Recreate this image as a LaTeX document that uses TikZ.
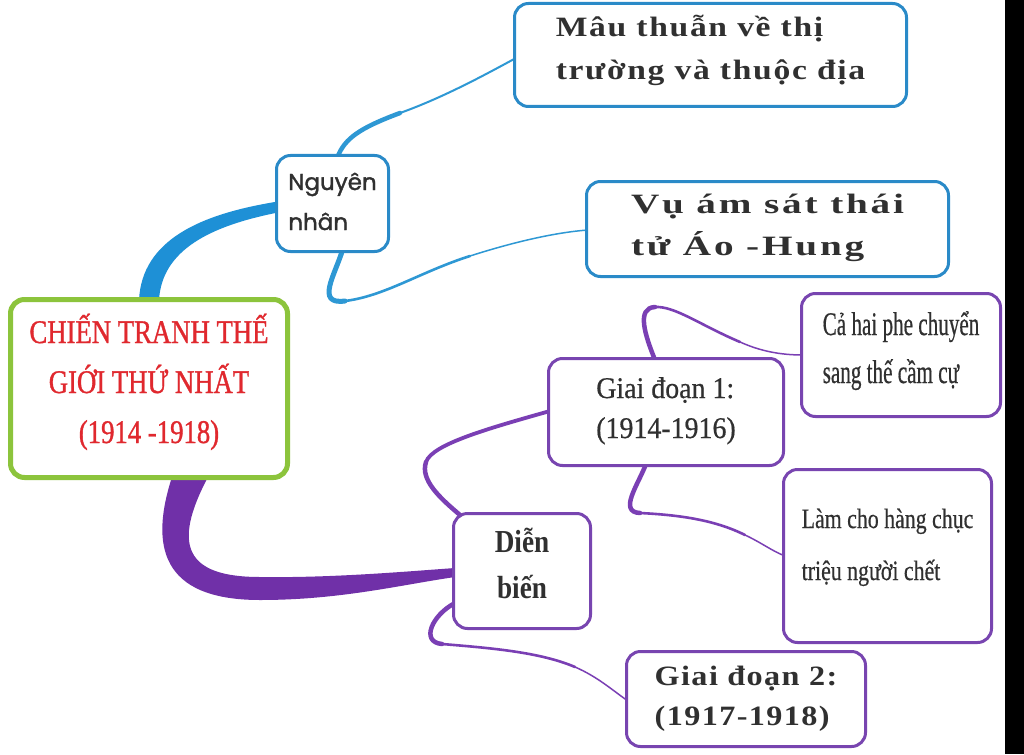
\documentclass[tikz,border=0pt]{standalone}
\usepackage{fontspec}
\setmainfont{Liberation Serif}
\newfontfamily\fcenter[FakeStretch=0.81,FakeBold=1]{Liberation Serif}
\newfontfamily\fch[FakeStretch=0.64,FakeBold=0.5]{Liberation Serif}
\newfontfamily\flc[FakeStretch=0.78,FakeBold=0.5]{Liberation Serif}
\newfontfamily\fgd[FakeStretch=0.93,FakeBold=0.6]{Liberation Serif}
\newfontfamily\fdb[FakeStretch=0.85]{Liberation Serif}
\newfontfamily\fmt[FakeStretch=1.2,LetterSpace=6]{Liberation Serif}
\newfontfamily\fva[FakeStretch=1.4,LetterSpace=10]{Liberation Serif}
\newfontfamily\fgdb[FakeStretch=1.15,LetterSpace=5]{Liberation Serif}
\newfontfamily\fsans[FakeBold=1.5]{Poppins}
\usetikzlibrary{calc}
\pgfdeclarelayer{bg}
\pgfsetlayers{bg,main}
\definecolor{boxblue}{HTML}{2A8AC8}
\definecolor{brblue}{HTML}{1E90D6}
\definecolor{lnblue}{HTML}{2E98D4}
\definecolor{boxpurple}{HTML}{7845B0}
\definecolor{brpurple}{HTML}{7030A8}
\definecolor{lnpurple}{HTML}{7A3FB4}
\definecolor{boxgreen}{HTML}{8CC43C}
\definecolor{titlered}{HTML}{E0282E}
\definecolor{txt}{HTML}{303030}
\newcommand\linesl[1]{\begin{tabular}[t]{@{}l@{}}#1\end{tabular}}
\newcommand\linesc[1]{\begin{tabular}[t]{@{}c@{}}#1\end{tabular}}
\tikzset{
  box/.style={draw, rounded corners=14pt, fill=white, inner sep=0pt, text=txt, text height=0pt},
  bluebox/.style={box, draw=boxblue, line width=3pt},
  purplebox/.style={box, draw=boxpurple, line width=3pt},
  lnA/.style={line width=4.5pt, line cap=round},
  lnB/.style={line width=2.6pt, line cap=round},
  lnC/.style={line width=1.5pt, line cap=round},
}
\begin{document}
\begin{tikzpicture}[x=1pt,y=-1pt]
\useasboundingbox (0,0) rectangle (1024,754);
\begin{pgfonlayer}{bg}
\fill[white] (0,0) rectangle (1024,754);
\end{pgfonlayer}

% nodes (text depth places the first baseline)
\node[box, draw=boxgreen, line width=5pt, text=titlered, text depth=91pt,
  minimum width=277pt, minimum height=178pt,
  font=\fontsize{33}{50}\selectfont\fcenter] (c) at (149,388.5)
  {\linesc{CHIẾN TRANH THẾ\\GIỚI THỨ NHẤT\\(1914 -1918)}};
\node[bluebox, text depth=27pt, minimum width=112pt, minimum height=96pt,
  font=\fontsize{23}{40}\selectfont\fsans] (nn) at (332.5,203.5)
  {\linesl{Nguyên\\nhân}};
\node[bluebox, text depth=36pt, minimum width=392pt, minimum height=103pt,
  font=\fontsize{28}{43}\selectfont\fmt\bfseries] (mt) at (710.5,55)
  {\linesl{Mâu thuẫn về thị\\trường và thuộc địa}};
\node[bluebox, text depth=32pt, minimum width=362pt, minimum height=95pt,
  font=\fontsize{28}{42}\selectfont\fva\bfseries] (va) at (767.5,229)
  {\linesl{Vụ ám sát thái\\tử Áo -Hung}};
\node[purplebox, text depth=28pt, minimum width=235pt, minimum height=107pt,
  font=\fontsize{30}{40}\selectfont\fgd] (gd1) at (666,412)
  {\linesl{Giai đoạn 1:\\(1914-1916)}};
\node[purplebox, text depth=40pt, minimum width=199pt, minimum height=123pt,
  font=\fontsize{33}{48}\selectfont\fch] (ch) at (901,355)
  {\linesl{Cả hai phe chuyển\\sang thế cầm cự}};
\node[purplebox, text depth=56pt, minimum width=208pt, minimum height=173pt,
  font=\fontsize{28}{52}\selectfont\flc] (lc) at (887.5,556)
  {\linesl{Làm cho hàng chục\\triệu người chết}};
\node[purplebox, text depth=38pt, minimum width=137pt, minimum height=115pt,
  font=\fontsize{32}{46}\selectfont\fdb\bfseries] (db) at (522,571)
  {\linesc{Diễn\\biến}};
\node[purplebox, text depth=28pt, minimum width=239pt, minimum height=95pt,
  font=\fontsize{28}{40}\selectfont\fgdb\bfseries] (gd2) at (746,699)
  {\linesl{Giai đoạn 2:\\(1917-1918)}};

\begin{pgfonlayer}{bg}
% thick blue branch
\fill[brblue] ($(c.north)+(-10,3)$) .. controls (142,240) and (200,214) .. ($(nn.west)+(3,-2)$)
  -- ($(nn.west)+(3,9)$) .. controls (210,226) and (162,250) .. ($(c.north)+(10,3)$) -- cycle;
% thick purple branch
\fill[brpurple] ($(c.south)+(23,-3)$) .. controls (150,545) and (160,600) .. (260,600)
  .. controls (340,600) and (400,585) .. ($(db.west)+(3,6)$)
  -- ($(db.west)+(3,-3)$) .. controls (400,572) and (330,578) .. (260,577)
  .. controls (185,577) and (172,545) .. ($(c.south)+(59,-3)$) -- cycle;

% Nguyen nhan -> Mau thuan
\draw[lnblue, lnA] ($(nn.north)+(5,3)$) .. controls (345,138) and (360,128) .. (400,113);
\draw[lnblue, lnC, line width=2pt] (400,113) .. controls (445,97) and (490,72) .. ($(mt.west)+(3,3)$);
% Nguyen nhan -> Vu am sat
\draw[lnblue, lnA, line width=5pt] ($(nn.south)+(10,-3)$) .. controls (335,275) and (315,305) .. (345,301);
\draw[lnblue, lnB] (345,301) .. controls (385,296) and (420,272) .. (470,256);
\draw[lnblue, lnC] (470,256) .. controls (520,240) and (560,232) .. ($(va.west)+(3,1)$);

% Dien bien -> Giai doan 1
\draw[lnpurple, lnA] ($(db.north west)+(8,3)$) .. controls (440,498) and (420,480) .. (426,462);
\draw[lnpurple, lnA, line width=3.8pt] (426,462) .. controls (432,444) and (490,428) .. ($(gd1.west)+(3,-1)$);
% Dien bien -> Giai doan 2
\draw[lnpurple, lnA] ($(db.west)+(3,32)$) .. controls (432,615) and (420,642) .. (442,644);
\draw[lnpurple, lnB] (442,644) .. controls (490,648) and (540,652) .. (575,667);
\draw[lnpurple, lnC] (575,667) .. controls (598,677) and (612,690) .. ($(gd2.west)+(3,2)$);
% Giai doan 1 -> Ca hai phe
\draw[lnpurple, lnA] ($(gd1.north)+(-11,3)$) .. controls (645,335) and (636,308) .. (655,307);
\draw[lnpurple, lnB] (655,307) .. controls (675,306) and (700,325) .. (740,342);
\draw[lnpurple, lnC] (740,342) .. controls (760,351) and (780,355) .. ($(ch.west)+(3,0)$);
% Giai doan 1 -> Lam cho
\draw[lnpurple, lnA] ($(gd1.south)+(-20,-3)$) .. controls (638,485) and (618,512) .. (640,513);
\draw[lnpurple, lnB] (640,513) .. controls (680,515) and (715,520) .. (745,535);
\draw[lnpurple, lnC] (745,535) .. controls (762,543) and (772,551) .. ($(lc.west)+(3,0)$);
\end{pgfonlayer}

% dark strip at the right edge
\fill[black] (1005,0) rectangle (1024,754);
\end{tikzpicture}
\end{document}
